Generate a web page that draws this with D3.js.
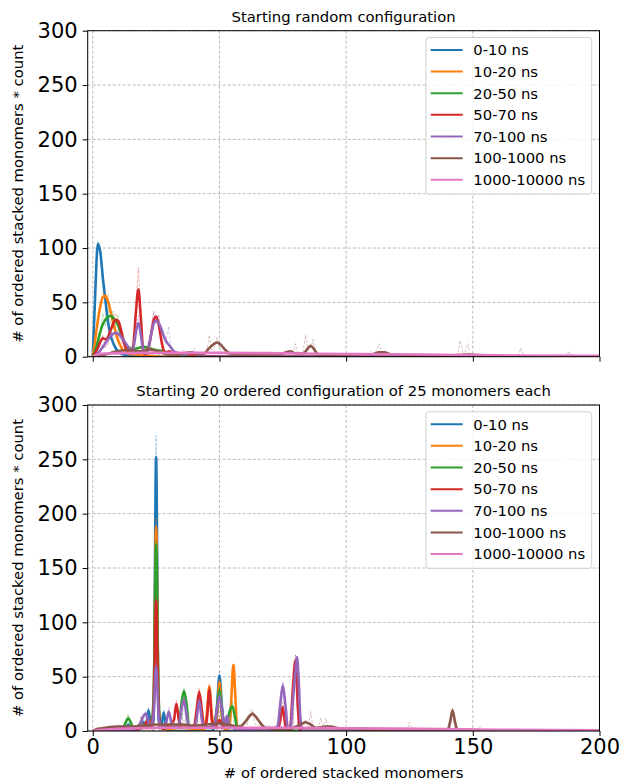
<!DOCTYPE html>
<html>
<head>
<meta charset="utf-8">
<script src="https://cdn.jsdelivr.net/npm/d3@7"></script>
<style>
  body { margin: 0; background: #fff; }
  svg { display: block; font-family: "DejaVu Sans", sans-serif; }
</style>
</head>
<body>
<div id="chart"></div>
<script>
// ----- DATA -----
const seriesNames = ["0-10 ns", "10-20 ns", "20-50 ns", "50-70 ns", "70-100 ns", "100-1000 ns", "1000-10000 ns"];
const seriesColors = ["#1f77b4", "#ff7f0e", "#2ca02c", "#d62728", "#9467bd", "#8c564b", "#e377c2"];
const panelTitles = ["Starting random configuration", "Starting 20 ordered configuration of 25 monomers each"];
const xTicks = [0, 50, 100, 150, 200];
const yTicks = [0, 50, 100, 150, 200, 250, 300];

// top panel: smoothed curves [x, y]
const rnd_0_10 = [[0,0],[1,60],[2,104],[3,96],[4,72],[5,52],[6,32],[7,20],[8,13],[9,8],[10,5],[12,2],[15,1],[20,0],[200,0]];
const rnd_10_20 = [[0,0],[1,16],[2,33],[3,47],[4,55],[5,56],[6,51],[7,42],[8,32],[9,23],[10,15],[11,10],[12,6],[14,3],[17,2],[22,1],[26,0],[200,0]];
const rnd_20_50 = [[0,0],[1,6],[2,14],[3,23],[4,30],[5,34],[6,37],[7,37.5],[8,36],[9,33],[10,29],[11,22],[12,15],[13,10],[14,8],[16,7],[18,8],[20,9],[22,8],[25,6],[28,5],[30,3],[35,2],[40,1],[45,0],[200,0]];
const rnd_50_70 = [[0,0],[2,8],[3,14],[4,17],[5,16],[6,18],[7,24],[8,30],[9,34],[10,33],[11,26],[12,16],[13,8],[14,5],[15,4],[16,10],[17,40],[18,62],[19,35],[20,4],[21,2],[22,8],[23,20],[24,33],[25,37],[26,30],[27,16],[28,6],[29,4],[30,5],[31,4],[33,2],[35,3],[38,2],[42,1],[50,0],[200,0]];
const rnd_70_100 = [[0,0],[2,3],[4,9],[6,16],[8,21],[9,22],[10,21],[12,16],[14,9],[15,6],[16,8],[17,22],[18,31],[19,20],[20,5],[21,3],[22,8],[23,20],[24,30],[25,33],[26,31],[27,26],[28,19],[29,14],[30,11],[31,8],[32,5],[34,3],[36,2],[39,4],[42,1],[45,0],[200,0]];
const rnd_100_1000 = [[0,0],[2,1],[5,2],[8,4],[10,5],[12,6],[15,6],[18,5],[20,5],[22,7],[24,6],[26,5],[28,3],[30,2],[33,2],[36,3],[38,4],[40,3],[42,2],[44,3],[46,8],[48,12],[49,13],[50,12],[52,7],[54,3],[56,2],[65,2],[72,2],[75,3],[78,5],[80,3],[83,3],[85,8],[86,10],[87,8],[89,2],[95,1],[100,1],[105,2],[110,2],[113,4],[115,4],[118,2],[125,1],[140,1],[148,2],[155,1],[170,0],[200,0]];
const rnd_1000_10000 = [[0,0],[2,2],[5,3],[20,3.5],[50,3.5],[80,3],[100,2.5],[130,2],[160,1.2],[200,0.8]];

// top panel: raw histogram counts [x, y]
const rndRaw_0_10 = [[0,0],[1,70],[2,106],[3,92],[4,75],[5,48],[6,35],[7,16],[8,14],[9,5],[10,6],[12,1],[14,0],[200,0]];
const rndRaw_10_20 = [[0,0],[2,38],[3,44],[4,60],[5,52],[6,58],[7,36],[8,34],[9,18],[10,19],[11,6],[12,8],[14,2],[16,0],[200,0]];
const rndRaw_20_50 = [[0,0],[3,22],[4,40],[5,28],[6,44],[7,30],[8,42],[9,28],[10,38],[11,18],[12,22],[13,6],[14,4],[15,10],[16,3],[17,4],[18,2],[19,4],[20,12],[21,3],[22,4],[24,2],[25,8],[26,2],[28,3],[32,0],[200,0]];
const rndRaw_50_70 = [[0,0],[3,6],[4,20],[5,8],[6,12],[7,20],[8,36],[9,40],[10,28],[11,20],[12,12],[13,6],[14,2],[15,3],[16,4],[17,44],[18,82],[19,30],[20,0],[21,2],[22,6],[23,26],[24,40],[25,34],[26,38],[27,12],[28,4],[29,2],[30,3],[31,8],[32,2],[33,0],[200,0]];
const rndRaw_70_100 = [[0,0],[3,4],[5,14],[6,12],[7,26],[8,16],[9,18],[10,26],[11,14],[12,14],[13,6],[14,6],[15,4],[16,8],[17,28],[18,38],[19,14],[20,4],[21,2],[22,8],[23,24],[24,42],[25,30],[26,38],[27,24],[28,22],[29,16],[30,28],[31,6],[32,4],[33,2],[38,2],[39,4],[40,8],[41,2],[42,0],[200,0]];
const rndRaw_100_1000 = [[0,0],[6,2],[8,6],[9,2],[13,3],[14,10],[15,2],[21,4],[22,14],[23,4],[35,2],[36,6],[37,2],[45,4],[46,20],[47,6],[48,8],[49,18],[50,8],[51,4],[53,2],[75,2],[76,6],[77,2],[79,3],[80,12],[81,2],[83,4],[84,20],[85,6],[86,8],[87,16],[88,2],[111,2],[112,6],[113,12],[114,2],[144,2],[145,15],[146,4],[147,4],[148,12],[149,2],[168,1],[169,8],[170,1],[187,0],[188,5],[189,0],[200,0]];
const rndRaw_1000_10000 = [[0,0],[3,2],[4,3],[5,2],[9,3],[10,5],[11,3],[39,3],[40,6],[41,3],[77,3],[78,6],[79,3],[109,2],[110,6],[111,2],[149,2],[150,4],[151,2],[186,1],[187,4],[188,1],[200,1]];

// bottom panel: smoothed curves [x, y]
const ord_0_10 = [[0,0],[11,0],[13,2],[14,6],[15,1],[19,2],[20,8],[21,5],[22,19],[23,5],[24,10],[25,252],[26,10],[27,4],[28,17],[29,3],[30,0],[47,0],[48,4],[49,22],[50,51],[51,22],[52,2],[53,0],[200,0]];
const ord_10_20 = [[0,0],[15,0],[18,3],[20,5],[22,3],[24,20],[25,188],[26,20],[27,3],[30,2],[35,3],[40,2],[44,2],[45,15],[46,41],[47,15],[48,3],[49,12],[50,45],[51,12],[52,2],[54,3],[54.7,30],[55.5,61],[56.3,30],[57,2],[60,0],[200,0]];
const ord_20_50 = [[0,0],[10,1],[12,3],[13,8],[14,12],[15,8],[16,3],[20,3],[23,5],[24,30],[25,172],[26,30],[27,4],[30,3],[34,5],[35,25],[36,37],[37,25],[38,5],[40,3],[45,3],[48,5],[49,20],[50,38],[51,20],[52,5],[53,8],[54,18],[55,23],[56,15],[57,3],[60,2],[65,0],[200,0]];
const ord_50_70 = [[0,0],[15,0],[18,2],[20,4],[22,10],[23,3],[24,20],[25,120],[26,20],[27,3],[28,2],[30,5],[32,10],[33,25],[34,10],[35,3],[38,3],[40,5],[41,20],[42,36],[43,20],[44,4],[45,10],[46,38],[47,10],[48,3],[50,10],[52,3],[55,3],[60,1],[70,0],[73,2],[74,10],[75,22],[76,5],[77,0],[78,5],[79,40],[80,65],[81,20],[82,0],[200,0]];
const ord_70_100 = [[0,0],[15,0],[17,3],[19,8],[20,14],[21,16],[22,8],[23,5],[24,15],[25,60],[26,15],[27,3],[29,8],[30,18],[31,8],[32,3],[34,6],[35,20],[36,29],[37,15],[38,4],[40,3],[41,12],[42,28],[43,12],[44,3],[48,5],[49,20],[50,32],[51,20],[52,5],[53,14],[54,5],[56,2],[70,0],[73,5],[74,25],[75,42],[76,25],[77,3],[78,2],[79,30],[80,55],[80.6,68],[81.2,50],[82,10],[83,0],[200,0]];
const ord_100_1000 = [[0,0],[2,2],[5,3],[10,4],[15,4],[20,5],[25,6],[30,6],[35,6],[40,5],[45,6],[50,7],[55,5],[58,4],[60,8],[62,14],[63,16],[64,14],[66,8],[68,3],[72,2],[78,2],[82,6],[84,8],[86,6],[88,3],[92,4],[94,4],[96,3],[100,2],[110,1],[120,1],[140,1],[141,8],[142,19],[143,8],[144,1],[160,0],[200,0]];
const ord_1000_10000 = [[0,0],[3,1],[10,2],[30,3],[60,3],[80,3],[100,2.5],[130,2],[160,1.2],[200,0.7]];

// bottom panel: raw histogram counts [x, y]
const ordRaw_0_10 = [[0,0],[13,0],[14,8],[15,0],[19,0],[20,10],[21,2],[22,22],[23,2],[24,0],[25,272],[26,4],[27,0],[28,20],[29,0],[49,0],[50,55],[51,0],[200,0]];
const ordRaw_10_20 = [[0,0],[19,0],[20,8],[21,0],[24,0],[25,196],[26,4],[27,0],[45,0],[46,44],[47,0],[49,0],[50,48],[51,0],[54,0],[55,56],[56,62],[57,0],[200,0]];
const ordRaw_20_50 = [[0,0],[12,0],[13,10],[14,16],[15,0],[24,0],[25,176],[26,2],[27,0],[35,0],[36,40],[37,0],[49,0],[50,42],[51,4],[54,0],[55,28],[56,0],[200,0]];
const ordRaw_50_70 = [[0,0],[21,0],[22,12],[23,0],[24,0],[25,126],[26,0],[32,0],[33,28],[34,0],[41,0],[42,40],[43,0],[45,0],[46,42],[47,0],[74,0],[75,26],[76,0],[79,0],[80,70],[81,0],[200,0]];
const ordRaw_70_100 = [[0,0],[20,0],[21,18],[22,0],[24,0],[25,64],[26,0],[29,0],[30,22],[31,0],[35,0],[36,32],[37,0],[41,0],[42,30],[43,0],[49,0],[50,36],[51,0],[74,0],[75,46],[76,0],[79,0],[80,70],[81,0],[200,0]];
const ordRaw_100_1000 = [[0,0],[9,2],[10,6],[11,2],[18,4],[19,14],[20,4],[35,4],[36,10],[37,4],[40,4],[41,14],[42,4],[61,6],[62,18],[63,20],[64,6],[79,2],[80,6],[81,2],[83,2],[84,10],[85,2],[86,18],[87,2],[89,2],[90,12],[91,2],[92,12],[93,2],[124,1],[125,8],[126,1],[141,0],[142,22],[143,0],[200,0]];
const ordRaw_1000_10000 = [[0,0],[29,3],[30,5],[31,3],[49,3],[50,4],[51,3],[69,3],[70,5],[71,3],[109,2],[110,4],[111,2],[152,1],[153,5],[154,1],[189,1],[190,3],[191,1],[200,1]];

const panelSmooth = [
    [rnd_0_10, rnd_10_20, rnd_20_50, rnd_50_70, rnd_70_100, rnd_100_1000, rnd_1000_10000],
    [ord_0_10, ord_10_20, ord_20_50, ord_50_70, ord_70_100, ord_100_1000, ord_1000_10000]
];
const panelRaw = [
    [rndRaw_0_10, rndRaw_10_20, rndRaw_20_50, rndRaw_50_70, rndRaw_70_100, rndRaw_100_1000, rndRaw_1000_10000],
    [ordRaw_0_10, ordRaw_10_20, ordRaw_20_50, ordRaw_50_70, ordRaw_70_100, ordRaw_100_1000, ordRaw_1000_10000]
];

// ----- LAYOUT -----
const width = 623, height = 784;
const left = 87.7, right = 599.5;
const panels = [{top: 30.7, bottom: 356.7}, {top: 405, bottom: 731}];
const labelSize = 14.8;

const svg = d3.select("#chart").append("svg")
    .attr("width", width)
    .attr("height", height);

const x = d3.scaleLinear().domain([-2, 200]).range([left, right]);

panels.forEach((p, i) => {
    const y = d3.scaleLinear().domain([0, 300]).range([p.bottom, p.top]);
    const g = svg.append("g");

    // clip
    svg.append("clipPath").attr("id", "clip" + i)
        .append("rect")
        .attr("x", left).attr("y", p.top)
        .attr("width", right - left).attr("height", p.bottom - p.top);

    // grid
    g.selectAll(".gx").data(xTicks).join("line")
        .attr("x1", d => x(d)).attr("x2", d => x(d))
        .attr("y1", p.top).attr("y2", p.bottom)
        .attr("stroke", "#a8a8a8").attr("stroke-width", 0.8)
        .attr("stroke-dasharray", "3,2");
    g.selectAll(".gy").data(yTicks).join("line")
        .attr("x1", left).attr("x2", right)
        .attr("y1", d => y(d)).attr("y2", d => y(d))
        .attr("stroke", "#a8a8a8").attr("stroke-width", 0.8)
        .attr("stroke-dasharray", "3,2");

    const line = d3.line()
        .x(d => x(d[0]))
        .y(d => y(d[1]))
        .curve(d3.curveMonotoneX);
    const rawLine = d3.line()
        .x(d => x(d[0]))
        .y(d => y(d[1]));

    const plot = g.append("g").attr("clip-path", `url(#clip${i})`);
    seriesNames.forEach((name, k) => {
        plot.append("path")
            .datum(panelRaw[i][k])
            .attr("fill", "none")
            .attr("stroke", seriesColors[k])
            .attr("stroke-opacity", 0.35)
            .attr("stroke-width", 1)
            .attr("stroke-dasharray", "3,1.5")
            .attr("d", rawLine);
        plot.append("path")
            .datum(panelSmooth[i][k])
            .attr("fill", "none")
            .attr("stroke", seriesColors[k])
            .attr("stroke-width", 2.6)
            .attr("stroke-linejoin", "round")
            .attr("d", line);
    });

    // frame
    g.append("rect")
        .attr("x", left).attr("y", p.top)
        .attr("width", right - left).attr("height", p.bottom - p.top)
        .attr("fill", "none").attr("stroke", "#000").attr("stroke-width", 1);

    // axes
    const yAxis = g.append("g")
        .attr("transform", `translate(${left},0)`)
        .call(d3.axisLeft(y).tickValues(yTicks).tickSize(5).tickPadding(5));
    yAxis.select(".domain").remove();
    yAxis.selectAll("text").attr("font-size", 21).attr("font-family", "DejaVu Sans").attr("fill", "#000");

    const xAxis = g.append("g")
        .attr("transform", `translate(0,${p.bottom})`)
        .call(d3.axisBottom(x).tickValues(xTicks).tickSize(5).tickPadding(3.5));
    xAxis.select(".domain").remove();
    xAxis.selectAll("text").attr("font-size", 21).attr("font-family", "DejaVu Sans").attr("fill", "#000");
    if (i === 0) xAxis.selectAll("text").remove();

    // title
    g.append("text")
        .attr("x", (left + right) / 2).attr("y", p.top - 9)
        .attr("text-anchor", "middle").attr("font-size", labelSize)
        .text(panelTitles[i]);

    // y label
    g.append("text")
        .attr("transform", `translate(23,${(p.top + p.bottom) / 2}) rotate(-90)`)
        .attr("text-anchor", "middle").attr("font-size", labelSize)
        .text("# of ordered stacked monomers * count");

    // legend
    const lg = g.append("g").attr("transform", `translate(426,${p.top + 6.8})`);
    lg.append("rect")
        .attr("width", 165.7).attr("height", 156.5).attr("rx", 3)
        .attr("fill", "#fff").attr("fill-opacity", 0.8)
        .attr("stroke", "#d0d0d0").attr("stroke-width", 1);
    seriesNames.forEach((name, k) => {
        const cy = 12.4 + k * 21.65;
        lg.append("line")
            .attr("x1", 4.7).attr("x2", 36.7)
            .attr("y1", cy).attr("y2", cy)
            .attr("stroke", seriesColors[k]).attr("stroke-width", 2);
        lg.append("text")
            .attr("x", 47.3).attr("y", cy).attr("dy", "0.36em")
            .attr("font-size", labelSize)
            .text(name);
    });
});

// x label
svg.append("text")
    .attr("x", (left + right) / 2).attr("y", 778)
    .attr("text-anchor", "middle").attr("font-size", labelSize)
    .text("# of ordered stacked monomers");
</script>
</body>
</html>
